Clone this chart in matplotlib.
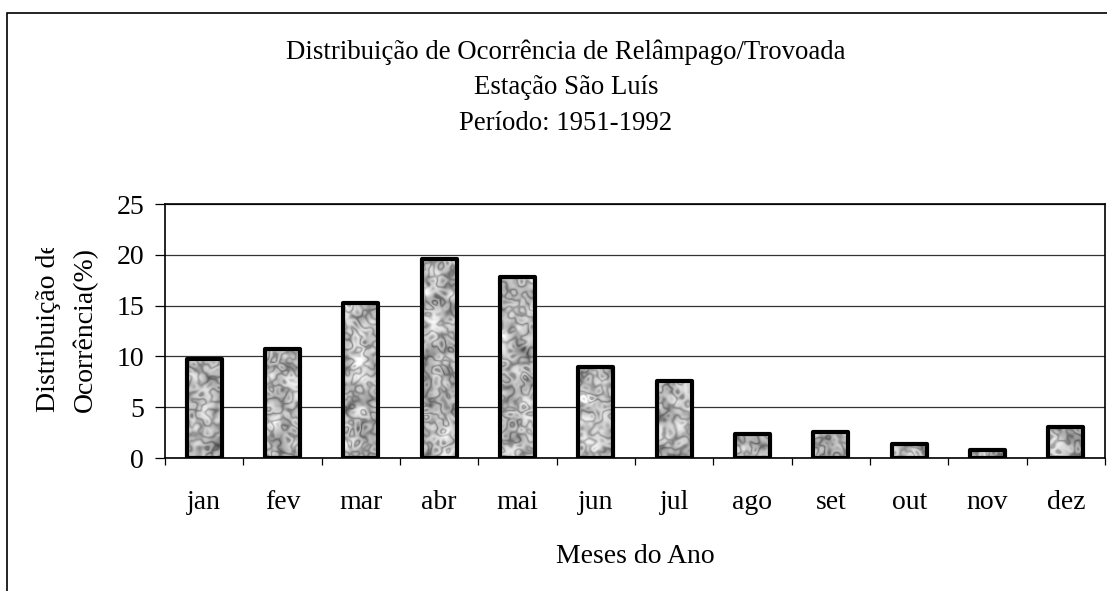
import numpy as np
import matplotlib
matplotlib.use('Agg')
import matplotlib.pyplot as plt
from matplotlib.patches import Rectangle
from matplotlib.transforms import Bbox

plt.rcParams['font.family'] = ['Liberation Serif', 'DejaVu Serif']

meses = ['jan', 'fev', 'mar', 'abr', 'mai', 'jun', 'jul', 'ago', 'set', 'out', 'nov', 'dez']
ocorrencia = [9.7, 10.7, 15.3, 19.6, 17.8, 9.0, 7.6, 2.4, 2.6, 1.4, 0.8, 3.1]
yticks = [0, 5, 10, 15, 20, 25]
titulo = ['Distribuição de Ocorrência de Relâmpago/Trovoada',
          'Estação São Luís',
          'Período: 1951-1992']


def suaviza(a, sigma):
    h, w = a.shape
    fy = np.fft.fftfreq(h)[:, None]
    fx = np.fft.fftfreq(w)[None, :]
    filtro = np.exp(-(fx ** 2 + fy ** 2) * (2 * np.pi * sigma) ** 2 / 2)
    out = np.real(np.fft.ifft2(np.fft.fft2(a) * filtro))
    return out / out.std()


def granito(h, w, seed=7):
    ''' mottled grey fill, like the old spreadsheet "granite" texture '''
    rng = np.random.default_rng(seed)
    veios = np.abs(np.sin(suaviza(rng.standard_normal((h, w)), 2.5) * 1.3))
    manchas = suaviza(rng.standard_normal((h, w)), 4.0)
    return 0.5 * veios + 0.12 * manchas


fig = plt.figure(figsize=(11.07, 5.91), dpi=100)
W, H = 1107, 591

# outer chart border (left and top edges visible)
fig.patches.append(Rectangle((7 / W, -0.1), 1.2, 1 - 13 / H + 0.1, transform=fig.transFigure,
                             fill=False, edgecolor='black', lw=1.2, zorder=0))

ax = fig.add_axes([165 / W, (H - 458) / H, (1105 - 165) / W, (458 - 204) / H])
x = np.arange(len(meses))
largura = 0.45

ax.set_xlim(-0.5, len(meses) - 0.5)
ax.set_ylim(0, 25)

tex = granito(260, 950)
for xi, v in zip(x, ocorrencia):
    barra = Rectangle((xi - largura / 2, 0), largura, v, facecolor='none',
                      edgecolor='black', lw=3.0, zorder=4, joinstyle='round')
    ax.add_patch(barra)
    im = ax.imshow(tex, extent=(-0.5, len(meses) - 0.5, 0, 25), aspect='auto',
                   cmap='gray', vmin=-0.8, vmax=0.85, interpolation='bilinear', zorder=3)
    im.set_clip_path(barra)

fs = 20
ax.set_yticks(yticks)
ax.yaxis.grid(True, color='#333333', lw=0.9)
ax.set_axisbelow(True)
ax.tick_params(axis='y', direction='out', length=7, width=0.9, labelsize=fs, pad=8)

ax.set_xticks(np.arange(-0.5, len(meses)), labels=[''] * (len(meses) + 1))
ax.set_xticks(x, labels=meses, minor=True)
ax.tick_params(axis='x', which='major', direction='out', length=5, width=0.9)
ax.tick_params(axis='x', which='minor', length=0, labelsize=fs, pad=23)
for s in ax.spines.values():
    s.set_linewidth(1.2)
ax.set_xlabel('Meses do Ano', fontsize=fs, labelpad=21)

for linha, ypx in zip(titulo, [52, 88, 123]):
    fig.text(566 / W, 1 - ypx / H, linha, ha='center', va='center', fontsize=19.3)

# y label, first line cut to the width of the second one
corte = Bbox.from_extents(0, 0, W, H - 248)
for txt, xpx in [('Distribuição de', 49), ('Ocorrência(%)', 85)]:
    t = fig.text(xpx / W, 1 - 412 / H, txt, rotation=90, ha='center', va='bottom', fontsize=fs)
    t.set_clip_box(corte)
    t.set_clip_on(True)

fig.savefig('out.png', dpi=100)
